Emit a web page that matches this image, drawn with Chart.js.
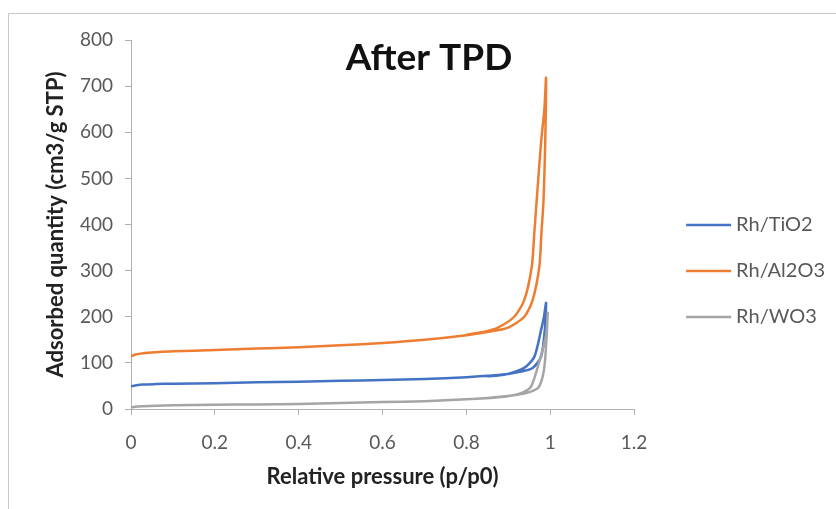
<!DOCTYPE html>
<html>
<head>
<meta charset="utf-8">
<script src="https://cdn.jsdelivr.net/npm/chart.js@4.4.0/dist/chart.umd.min.js"></script>
<style>
  html, body { margin: 0; padding: 0; background: #fff; overflow: hidden; }
  #frame { position: absolute; left: 8px; top: 13px; width: 900px; height: 600px; border: 1px solid #c8c8c8; }
  #wrap { position: absolute; left: 0; top: 0; width: 836px; height: 509px; }
</style>
</head>
<body>
<div id="frame"></div>
<div id="wrap"><canvas id="chart"></canvas></div>
<script>
// isotherms: adsorption branch, then desorption back down
const tio2P = [0, 0.01, 0.03, 0.06, 0.1, 0.2, 0.3, 0.4, 0.5, 0.6, 0.7, 0.8, 0.85, 0.9, 0.93, 0.958, 0.978, 0.987, 0.99,
               0.985, 0.978, 0.962, 0.938, 0.89, 0.85];
const tio2Q = [49, 51, 53, 54, 55, 56, 58, 59, 61, 63, 65, 69, 72, 76, 81, 89, 113, 171, 230,
               200, 171, 113, 89, 74, 71];

const al2o3P = [0, 0.01, 0.03, 0.06, 0.1, 0.2, 0.3, 0.4, 0.5, 0.6, 0.7, 0.8, 0.85, 0.898, 0.938, 0.958, 0.974, 0.979, 0.984, 0.988, 0.99,
                0.986, 0.978, 0.966, 0.962, 0.956, 0.938, 0.914, 0.874, 0.84, 0.8];
const al2o3Q = [114, 118, 121, 123, 125, 128, 131, 134, 138, 143, 150, 160, 167, 176, 200, 236, 309, 382, 453, 577, 718,
                650, 577, 432, 382, 309, 236, 200, 176, 167, 161];

const wo3P = [0, 0.01, 0.03, 0.06, 0.1, 0.2, 0.3, 0.4, 0.5, 0.6, 0.7, 0.8, 0.85, 0.9, 0.94, 0.96, 0.973, 0.983, 0.988, 0.994,
              0.99, 0.973, 0.954, 0.935, 0.913, 0.87, 0.82];
const wo3Q = [3, 5, 6, 7, 8, 9, 10, 11, 13, 15, 17, 21, 24, 28, 34, 40, 48, 75, 110, 208,
              160, 100, 48, 36, 30, 25, 22];

const seriesNames = ['Rh/TiO2', 'Rh/Al2O3', 'Rh/WO3'];
const seriesColors = ['#4472c4', '#ed7d31', '#a5a5a5'];
const xTickLabels = ['0', '0.2', '0.4', '0.6', '0.8', '1', '1.2'];
const yTickLabels = ['0', '100', '200', '300', '400', '500', '600', '700', '800'];
const chartTitle = 'After TPD';
const xTitle = 'Relative pressure (p/p0)';
const yTitle = 'Adsorbed quantity (cm3/g STP)';

function pts(p, q) {
  return p.map((v, i) => ({ x: v, y: q[i] }));
}

// legend symbol: short line pushed to the right of the legend box,
// leaves the gap Excel puts between the plot and the legend
function legendLine(color) {
  const c = document.createElement('canvas');
  c.width = 90;
  c.height = 6;
  const g = c.getContext('2d');
  g.strokeStyle = color;
  g.lineWidth = 2.5;
  g.beginPath();
  g.moveTo(38, 3);
  g.lineTo(83, 3);
  g.stroke();
  return c;
}

const titlePlugin = {
  id: 'overlayTitle',
  afterDraw(chart) {
    const c = chart.ctx;
    c.save();
    c.font = 'bold 37px Lato';
    c.fillStyle = '#111';
    c.textAlign = 'center';
    c.textBaseline = 'middle';
    c.fillText(chartTitle, 429, 58);
    c.restore();
  }
};

Chart.defaults.font.family = 'Lato';
Chart.defaults.color = '#595959';

const ctx = document.getElementById('chart').getContext('2d');
new Chart(ctx, {
  type: 'scatter',
  data: {
    datasets: [
      { label: seriesNames[0], data: pts(tio2P, tio2Q), borderColor: seriesColors[0], pointStyle: legendLine(seriesColors[0]), order: 3 },
      { label: seriesNames[1], data: pts(al2o3P, al2o3Q), borderColor: seriesColors[1], pointStyle: legendLine(seriesColors[1]), order: 2 },
      { label: seriesNames[2], data: pts(wo3P, wo3Q), borderColor: seriesColors[2], pointStyle: legendLine(seriesColors[2]), order: 1 }
    ]
  },
  options: {
    responsive: true,
    maintainAspectRatio: false,
    animation: false,
    showLine: true,
    elements: {
      point: { radius: 0, hoverRadius: 0 },
      line: { borderWidth: 2.5, tension: 0.25, fill: false }
    },
    layout: { padding: { left: 0, top: 40, right: 1, bottom: 7 } },
    plugins: {
      tooltip: { enabled: false },
      legend: {
        position: 'right',
        align: 'center',
        labels: {
          usePointStyle: true,
          pointStyleWidth: 66,
          padding: 26,
          color: '#595959',
          font: { size: 20 },
          sort: (a, b) => a.datasetIndex - b.datasetIndex
        }
      }
    },
    scales: {
      x: {
        type: 'linear',
        min: 0, max: 1.2,
        ticks: { stepSize: 0.2, color: '#595959', font: { size: 19 }, padding: 16,
                 callback: (v, i) => xTickLabels[i] },
        grid: { drawOnChartArea: false, tickLength: 6, color: '#b0b0b0' },
        border: { color: '#b0b0b0' },
        title: { display: true, text: xTitle, color: '#222', font: { size: 22, weight: 'bold' },
                 padding: { top: 0, bottom: 12 } },
        afterFit(s) { s.height = 93; }
      },
      y: {
        min: 0, max: 800,
        ticks: { stepSize: 100, color: '#595959', font: { size: 19 }, padding: 12,
                 callback: (v, i) => yTickLabels[i] },
        grid: { drawOnChartArea: false, tickLength: 6, color: '#b0b0b0' },
        border: { color: '#b0b0b0' },
        title: { display: true, text: yTitle, color: '#222', font: { size: 22, weight: 'bold' },
                 padding: { top: 43, bottom: 0 } },
        afterFit(s) { s.width = 131; }
      }
    }
  },
  plugins: [titlePlugin]
});
</script>
</body>
</html>
